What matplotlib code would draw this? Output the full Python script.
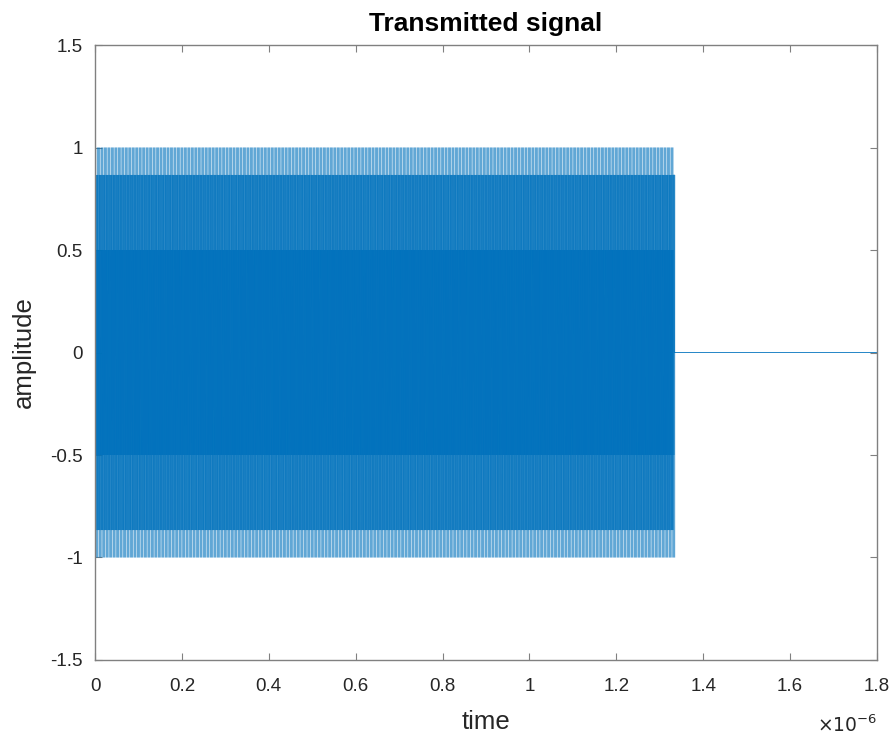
import matplotlib.pyplot as plt
import numpy as np
from matplotlib.collections import LineCollection
from matplotlib.ticker import FuncFormatter

plt.rcParams['font.family'] = ['Liberation Sans', 'DejaVu Sans']

# signal parameters
carrier_freq = 625e6        # Hz
sample_rate = 1.5e9         # Hz
n_pulse = 2000              # samples carrying the carrier
t_end = 1.8e-6              # s

t = np.arange(int(round(t_end * sample_rate)) + 1) / sample_rate
signal = np.zeros_like(t)
signal[:n_pulse] = np.cos(2 * np.pi * carrier_freq * t[:n_pulse])

xticks = np.arange(0, 1.81, 0.2) * 1e-6
yticks = [-1.5, -1, -0.5, 0, 0.5, 1, 1.5]
ytick_labels = ['-1.5', '-1', '-0.5', '0', '0.5', '1', '1.5']

fig = plt.figure(figsize=(8.93, 7.38), dpi=100)
ax = fig.add_axes([0.1064, 0.1057, 0.8757, 0.8333])

line_color = '#0072BD'
# pulse part as separate segments so overlapping strokes build up shade
pts = np.column_stack([t[:n_pulse], signal[:n_pulse]])
segs = np.stack([pts[:-1], pts[1:]], axis=1)
ax.add_collection(LineCollection(segs, colors=line_color, linewidths=2.1, alpha=0.38))
# tail (falls to zero and stays there)
ax.plot(t[n_pulse - 1:], signal[n_pulse - 1:], color=line_color, linewidth=0.6)

ax.set_xlim(0, t_end)
ax.set_ylim(-1.5, 1.5)
ax.set_xticks(xticks)
ax.xaxis.set_major_formatter(FuncFormatter(lambda v, p: '{:g}'.format(round(v * 1e6, 1))))
ax.set_yticks(yticks)
ax.set_yticklabels(ytick_labels)

gray = '#262626'
for s in ax.spines.values():
	s.set_color('#808080')
	s.set_linewidth(1.0)
ax.tick_params(direction='in', top=True, right=True, length=5, width=0.8,
	colors='#808080', labelcolor=gray, labelsize=13.5)
ax.tick_params(axis='x', pad=13)
ax.tick_params(axis='y', pad=9)

ax.set_title('Transmitted signal', fontsize=19, fontweight='bold', color='black', pad=10)
ax.set_xlabel('time', fontsize=18.5, color=gray, labelpad=11)
ax.set_ylabel('amplitude', fontsize=18.5, color=gray, labelpad=10)
ax.text(1.0, -0.1236, r'$\times10^{-6}$', transform=ax.transAxes, ha='right', va='bottom',
	fontsize=13.5, color=gray)

plt.savefig('out.png', dpi=100)
